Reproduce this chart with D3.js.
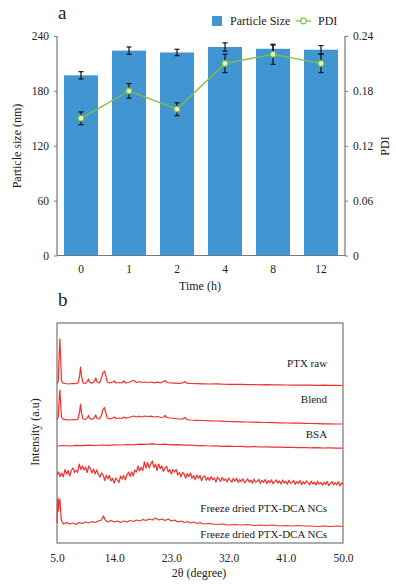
<!DOCTYPE html>
<html>
<head>
<meta charset="utf-8">
<script src="https://cdn.jsdelivr.net/npm/d3@7"></script>
<style>
  body { margin: 0; background: #fff; }
  svg { display: block; }
  svg text { font-family: "Liberation Serif", "DejaVu Serif", serif; fill: #222; }
  .tick text { font-size: 11.5px; }
</style>
</head>
<body>
<div id="chart"></div>
<script>
// panel a data
var times = ["0", "1", "2", "4", "8", "12"]
var sizeVals = [197, 224, 222, 228, 226, 225]
var sizeErr = [4, 4, 3.5, 4.5, 4, 4.5]
var pdiVals = [0.150, 0.180, 0.160, 0.210, 0.220, 0.210]
var pdiErr = [0.007, 0.008, 0.007, 0.010, 0.011, 0.010]
var sizeTicks = [0, 60, 120, 180, 240]
var pdiTicks = [0, 0.06, 0.12, 0.18, 0.24]

// panel b data: [2theta, intensity] (a.u.), each trace shifted by its offset
var traceNames = ["PTX raw", "Blend", "BSA", "Freeze dried PTX-DCA NCs", "Freeze dried PTX-DCA NCs"]
var traceOffsets = [159, 123, 97, 68, 20]
var degTicks = [5, 14, 23, 32, 41, 50]

var ptxRaw = [[5.0,0.5],[5.2,3],[5.35,30],[5.45,45],[5.55,30],[5.7,4],[5.9,1],[6.3,0.5],[6.8,0],[7.3,0.5],[7.8,0.3],[8.3,1],[8.55,8],[8.7,17],[8.85,8],[9.1,1],[9.5,0.5],[9.8,3],[9.95,5],[10.1,2],[10.5,0.8],[10.9,3],[11.1,6],[11.3,2],[11.7,1],[12.0,6],[12.2,11],[12.45,13],[12.7,8],[12.9,2],[13.3,1],[13.8,2],[14.0,3],[14.3,1],[14.8,1.5],[15.2,1],[15.5,3],[15.8,1],[16.3,1.5],[16.8,3],[17.1,3.5],[17.5,1.5],[18,2.5],[18.3,1.5],[18.8,2],[19.3,1.5],[19.8,2],[20.3,1.2],[20.8,1.8],[21.3,1.2],[21.8,2.5],[22.0,3.5],[22.3,1.5],[22.8,1],[23.5,0.8],[24.2,0.6],[24.8,1.2],[25.1,2.5],[25.4,0.8],[26,0.5],[27,0.3],[28,0.2],[29,0],[30,0.1],[31,-0.2],[32,-0.3],[33,-0.4],[34,-0.3],[35,-0.6],[36,-0.5],[37,-0.8],[38,-0.7],[39,-0.9],[40,-0.8],[41,-1],[42,-1.1],[43,-1],[44,-1.2],[45,-1.1],[46,-1.3],[47,-1.2],[48,-1.4],[49,-1.3],[50,-1.5]]

var blend = [[5.0,0.5],[5.2,3],[5.35,22],[5.45,30],[5.55,20],[5.7,3],[6,0.5],[6.5,0.3],[7,0],[7.5,0.5],[8,0.2],[8.3,1],[8.55,8],[8.7,16],[8.85,7],[9.1,1],[9.5,0.5],[9.8,3],[9.95,4.5],[10.1,1.5],[10.5,0.8],[10.9,2.5],[11.1,5],[11.3,1.5],[11.7,1],[12,5],[12.2,10],[12.45,12.5],[12.7,7],[12.9,2],[13.3,1],[13.8,2],[14,3],[14.3,1.5],[14.8,2],[15.2,1.5],[15.5,3],[15.8,1.8],[16.3,2.5],[16.8,3.5],[17.1,4],[17.5,3],[18,3.8],[18.3,3],[18.8,4],[19.3,3.5],[19.8,3.8],[20.3,3],[20.8,3.5],[21.3,2.5],[21.8,3],[22,4.5],[22.3,2.5],[22.8,2],[23.5,1.5],[24.2,1],[24.8,1.2],[25.1,2.5],[25.4,0.5],[26,0],[27,-0.3],[28,-0.5],[29,-0.8],[30,-1],[31,-1.2],[32,-1.5],[33,-1.6],[34,-1.8],[35,-2],[36,-2.1],[37,-2.4],[38,-2.5],[39,-2.7],[40,-2.8],[41,-3],[42,-3.1],[43,-3.2],[44,-3.4],[45,-3.5],[46,-3.6],[47,-3.8],[48,-3.9],[49,-4],[50,-4]]

var bsa = [[5,0],[6,0.5],[7,0],[8,0.6],[9,0.3],[10,0.8],[11,0.5],[12,1],[13,0.7],[14,1.2],[15,1],[16,1.5],[17,1.2],[18,1.8],[19,1.6],[20,2.2],[21,1.5],[22,1.8],[23,1.2],[24,1.4],[25,0.8],[26,1],[27,0.4],[28,0.5],[29,0],[30,0.2],[31,-0.3],[32,-0.1],[33,-0.5],[34,-0.4],[35,-0.8],[36,-0.6],[37,-1],[38,-0.9],[39,-1.2],[40,-1.1],[41,-1.4],[42,-1.3],[43,-1.6],[44,-1.5],[45,-1.8],[46,-1.7],[47,-2],[48,-1.9],[49,-2.2],[50,-2.2]]

// noisy amorphous scan, read every 0.25 degree from 5.0 to 50.0
var fd1Start = 5, fd1Step = 0.25
var freezeDried1Vals = [
  0,3,-1.5,2,-2,5.5,1,4.5,
  -1,4.5,7,2.5,5,2.5,11,5.5,
  9,5,8,2.5,9,6.5,2,6,
  1,5.2,0.5,-2.2,2,0.2,-5.5,-0.2,
  -4,-0.5,-6,-3.5,-8,-3,-5,-7.5,
  -1,-4.2,-0.5,-4.8,0,2.8,-1.5,3.2,
  -1,5,3,9,4,7.8,4.5,13.2,
  7,12.5,7,11,14,7.5,11,4.5,
  11,6.5,9,3.5,7,8.5,3,5.5,
  1,5.5,3,5.5,0,2.5,-2,2.5,
  1,-3.2,1.5,-1.8,2,-3.2,-0.5,-4.8,
  0,-3.2,-0.5,-5.8,-2,-1.1,-5.2,-2.4,
  -5.5,-1.6,-4.8,-2.9,-7,-2.1,-4.2,-6.4,
  -2.5,-5.6,-3.8,-6.9,-3,-5.1,-7.2,-3.2,
  -6.3,-3.4,-7.4,-4.5,-6.6,-3.7,-7.8,-5.9,
  -4,-7,-5.1,-8.1,-4.2,-7.2,-6.3,-4.3,
  -8.4,-5.4,-7.5,-4.5,-8.6,-5.6,-7.7,-4.7,
  -8.8,-6.8,-4.9,-7.9,-6,-9,-5.1,-8.1,
  -6.2,-9.2,-5.2,-8.2,-7.4,-5.4,-9.5,-6.5,
  -8.6,-5.6,-9.7,-6.7,-8.8,-5.8,-7.9,-9.9,
  -6,-9,-7.1,-10.1,-6.2,-9.2,-7.3,-10.3,
  -7.4,-9.4,-6.5,-10.5,-8.6,-6.6,-9.7,-7.7,
  -9.8,-6.8,-10.9,-7.9,-9]
var freezeDried1 = freezeDried1Vals.map(function(v, i) { return [fd1Start + i * fd1Step, v] })

var freezeDried2 = [[5.0,0],[5.08,20],[5.15,25],[5.25,12],[5.35,22],[5.45,24],[5.55,16],[5.65,4],[5.8,1],[6.0,-1],[6.5,0.5],[7.0,-1],[7.5,0],[8.0,-1.5],[8.5,0.5],[9.0,-0.5],[9.5,1],[10.0,0],[10.5,1.5],[11.0,0.5],[11.5,2],[12.0,3],[12.3,7],[12.6,3],[13.0,1],[13.5,2.5],[14.0,1],[14.5,2],[15.0,0.5],[15.5,2],[16.0,1],[16.5,2.5],[17.0,1.5],[17.5,3],[18.0,2],[18.5,3.5],[19.0,2.5],[19.5,4],[20.0,3],[20.5,5],[21.0,3],[21.5,4],[22.0,2.5],[22.5,4],[23.0,2],[23.5,3],[24.0,1],[24.5,2],[25.0,0.5],[25.5,1.5],[26.0,0],[26.5,1],[27,-0.5],[27.5,0.5],[28,-1],[29,-0.5],[30,-1.5],[31,-1],[32,-2],[33,-1.5],[34,-2],[35,-1.5],[36,-2.5],[37,-2],[38,-2.5],[39,-2],[40,-3],[41,-2.5],[42,-3],[43,-2.5],[44,-3],[45,-3],[46,-3.5],[47,-3],[48,-3.5],[49,-3],[50,-3.5]]

var traces = [ptxRaw, blend, bsa, freezeDried1, freezeDried2]
// label baselines, as intensity relative to each trace offset
var labelLift = [17, 17, 8, -37, -15]

var width = 396, height = 586
var blue = "#4195d3", green = "#7cc242", red = "#f0302c", axisCol = "#777"
var serif = "Liberation Serif"

var svg = d3.select("#chart").append("svg")
    .attr("width", width)
    .attr("height", height)
    .attr("font-family", serif)

// ---------- panel a ----------
var ax = {left: 57, right: 345, top: 36, bottom: 255.5}

var x = d3.scaleBand().domain(times).range([ax.left, ax.right]).paddingInner(0.29).paddingOuter(0.145)
var ySize = d3.scaleLinear().domain([0, 240]).range([ax.bottom, ax.top])
var yPdi = d3.scaleLinear().domain([0, 0.24]).range([ax.bottom, ax.top])

var ga = svg.append("g")

ga.selectAll("rect.bar")
    .data(sizeVals)
    .enter().append("rect")
    .attr("class", "bar")
    .attr("x", function(d, i) { return x(times[i]) })
    .attr("y", function(d) { return ySize(d) })
    .attr("width", x.bandwidth())
    .attr("height", function(d) { return ax.bottom - ySize(d) })
    .style("fill", blue)

function errBars(vals, errs, y, cls) {
  var e = ga.selectAll("g." + cls).data(vals).enter().append("g").attr("class", cls)
    .attr("stroke", "#111").attr("stroke-width", 1.2)
  e.append("line")
    .attr("x1", function(d, i) { return x(times[i]) + x.bandwidth() / 2 })
    .attr("x2", function(d, i) { return x(times[i]) + x.bandwidth() / 2 })
    .attr("y1", function(d, i) { return y(d + errs[i]) })
    .attr("y2", function(d, i) { return y(d - errs[i]) })
  ;[1, -1].forEach(function(s) {
    e.append("line")
      .attr("x1", function(d, i) { return x(times[i]) + x.bandwidth() / 2 - 2.5 })
      .attr("x2", function(d, i) { return x(times[i]) + x.bandwidth() / 2 + 2.5 })
      .attr("y1", function(d, i) { return y(d + s * errs[i]) })
      .attr("y2", function(d, i) { return y(d + s * errs[i]) })
  })
}
errBars(sizeVals, sizeErr, ySize, "errSize")

var pdiLine = d3.line()
    .x(function(d, i) { return x(times[i]) + x.bandwidth() / 2 })
    .y(function(d) { return yPdi(d) })

ga.append("path")
    .datum(pdiVals)
    .attr("d", pdiLine)
    .attr("fill", "none")
    .attr("stroke", green)
    .attr("stroke-width", 1.3)

errBars(pdiVals, pdiErr, yPdi, "errPdi")

ga.selectAll("circle.pdi")
    .data(pdiVals)
    .enter().append("circle")
    .attr("class", "pdi")
    .attr("cx", function(d, i) { return x(times[i]) + x.bandwidth() / 2 })
    .attr("cy", function(d) { return yPdi(d) })
    .attr("r", 2.8)
    .attr("fill", "#eef5d6")
    .attr("stroke", green)
    .attr("stroke-width", 1.2)

// axes
var leftAxis = ga.append("g").attr("transform", "translate(" + ax.left + ",0)")
    .call(d3.axisLeft(ySize).tickValues(sizeTicks).tickSize(3).tickPadding(5))
var rightAxis = ga.append("g").attr("transform", "translate(" + ax.right + ",0)")
    .call(d3.axisRight(yPdi).tickValues(pdiTicks).tickSize(3).tickPadding(5)
      .tickFormat(function(d) { return d === 0 ? "0" : d3.format(".2f")(d) }))
var bottomAxis = ga.append("g").attr("transform", "translate(0," + ax.bottom + ")")
    .call(d3.axisBottom(x).tickSize(0).tickPadding(9))
;[leftAxis, rightAxis, bottomAxis].forEach(function(a) {
  a.attr("font-family", serif).attr("font-size", 11.5)
  a.select(".domain").attr("stroke", axisCol).attr("stroke-width", 1.2)
  a.selectAll(".tick line").attr("stroke", axisCol)
})
leftAxis.select(".domain").attr("d", "M0," + ax.bottom + "V" + ax.top)
rightAxis.select(".domain").attr("d", "M0," + ax.bottom + "V" + ax.top)
bottomAxis.select(".domain").attr("d", "M" + ax.left + ",0H" + ax.right)

ga.append("text").attr("x", 58).attr("y", 19).text("a")
    .style("font-size", "19px")
ga.append("text").attr("x", 200).attr("y", 290).attr("text-anchor", "middle")
    .text("Time (h)").style("font-size", "12px")
ga.append("text").attr("transform", "translate(21,146) rotate(-90)").attr("text-anchor", "middle")
    .text("Particle size (nm)").style("font-size", "12px")
ga.append("text").attr("transform", "translate(389,146) rotate(-90)").attr("text-anchor", "middle")
    .text("PDI").style("font-size", "12px")

// legend
ga.append("rect").attr("x", 212).attr("y", 16).attr("width", 10).attr("height", 10).attr("fill", blue)
ga.append("text").attr("x", 230).attr("y", 25).text("Particle Size").style("font-size", "12px")
ga.append("line").attr("x1", 296).attr("x2", 311).attr("y1", 21).attr("y2", 21)
    .attr("stroke", green).attr("stroke-width", 1.3)
ga.append("circle").attr("cx", 303.5).attr("cy", 21).attr("r", 2.8)
    .attr("fill", "#fff").attr("stroke", green).attr("stroke-width", 1.2)
ga.append("text").attr("x", 318).attr("y", 25).text("PDI").style("font-size", "12px")

// ---------- panel b ----------
var bx = {left: 57, right: 343, top: 323, bottom: 543}
var xDeg = d3.scaleLinear().domain([5, 50]).range([bx.left, bx.right])
var yInt = d3.scaleLinear().domain([0, 220]).range([bx.bottom, bx.top])

var gb = svg.append("g")

gb.append("rect")
    .attr("x", bx.left).attr("y", bx.top)
    .attr("width", bx.right - bx.left).attr("height", bx.bottom - bx.top)
    .attr("fill", "none").attr("stroke", axisCol).attr("stroke-width", 1.2)

traces.forEach(function(tr, k) {
  var line = d3.line()
      .x(function(d) { return xDeg(d[0]) })
      .y(function(d) { return yInt(d[1] + traceOffsets[k]) })
  gb.append("path")
      .datum(tr)
      .attr("d", line)
      .attr("fill", "none")
      .attr("stroke", red)
      .attr("stroke-width", 1.2)
      .attr("stroke-linejoin", "round")
  gb.append("text")
      .attr("x", xDeg(47.5))
      .attr("y", yInt(traceOffsets[k] + labelLift[k]))
      .attr("text-anchor", "end")
      .text(traceNames[k])
      .style("font-size", "11px")
})

var degAxis = gb.append("g").attr("transform", "translate(0," + bx.bottom + ")")
    .call(d3.axisBottom(xDeg).tickValues(degTicks).tickSize(0).tickPadding(11).tickFormat(d3.format(".1f")))
degAxis.attr("font-family", serif).attr("font-size", 11.5)
degAxis.select(".domain").remove()

gb.append("text").attr("x", 58).attr("y", 306).text("b").style("font-size", "19px")
gb.append("text").attr("x", 199).attr("y", 577).attr("text-anchor", "middle")
    .text("2θ (degree)").style("font-size", "12px")
gb.append("text").attr("transform", "translate(39,432) rotate(-90)").attr("text-anchor", "middle")
    .text("Intensity (a.u)").style("font-size", "12px")
</script>
</body>
</html>
